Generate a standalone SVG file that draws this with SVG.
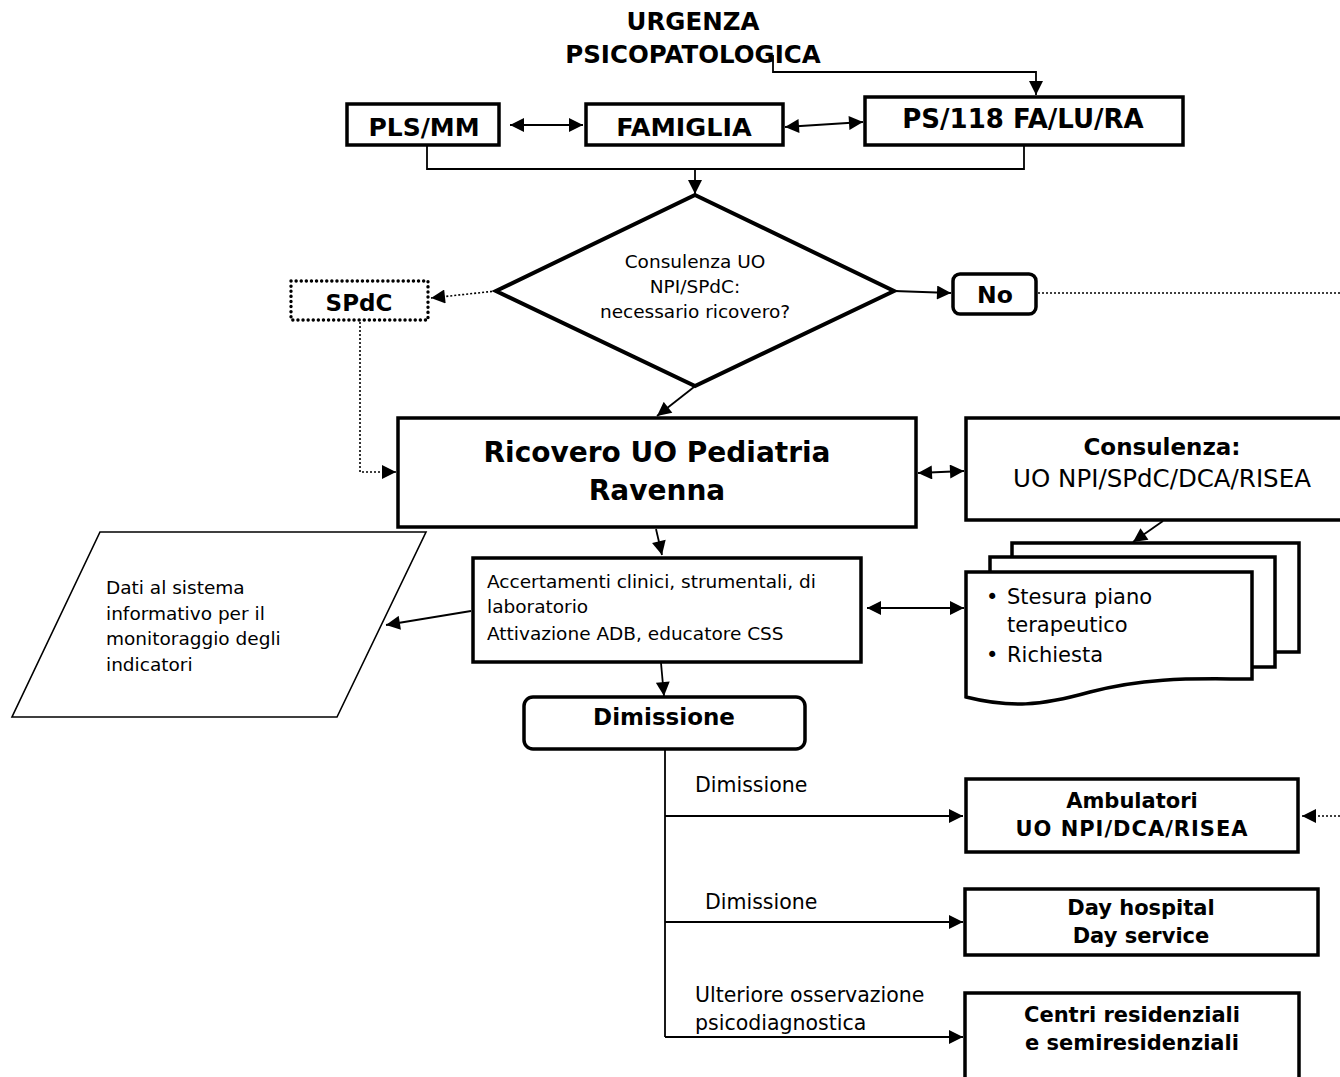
<svg xmlns="http://www.w3.org/2000/svg" width="1340" height="1077" viewBox="0 0 1340 1077">
  <defs>
    <marker id="ah" viewBox="0 0 10 10" refX="10" refY="5" markerWidth="15" markerHeight="14" markerUnits="userSpaceOnUse" orient="auto-start-reverse">
      <path d="M0,0 L10,5 L0,10 z" fill="#000"/>
    </marker>
    <style>
      .box { fill: #fff; stroke: #000; stroke-width: 3.5; }
      .thin { fill: #fff; stroke: #000; stroke-width: 1.6; }
      .dotbox { fill: #fff; stroke: #000; stroke-width: 3.4; stroke-dasharray: 0.1 5; stroke-linecap: round; }
      .ln { fill: none; stroke: #000; stroke-width: 1.8; }
      .dot { fill: none; stroke: #000; stroke-width: 1.6; stroke-dasharray: 2 2; }
      .b { font-family: "DejaVu Sans", Verdana, sans-serif; font-weight: bold; fill: #000; }
      .r { font-family: "DejaVu Sans", Verdana, sans-serif; fill: #000; }
      .c { text-anchor: middle; }
    </style>
  </defs>

  <!-- connectors -->
  <g id="connectors">
    <path class="ln" d="M773,55 V72 H1036 V95" marker-end="url(#ah)"/>
    <path class="ln" d="M510,125 H583" marker-start="url(#ah)" marker-end="url(#ah)"/>
    <path class="ln" d="M785,127 L863,122" marker-start="url(#ah)" marker-end="url(#ah)"/>
    <path class="ln" d="M427,145 V169 H1024 V146"/>
    <path class="ln" d="M695,169 V194" marker-end="url(#ah)"/>
    <path class="dot" d="M496,291 L431,298" marker-end="url(#ah)"/>
    <path class="ln" d="M894,291 L951,293" marker-end="url(#ah)"/>
    <path class="dot" d="M1038,293 H1340"/>
    <path class="dot" d="M360,322 V472 H396" marker-end="url(#ah)"/>
    <path class="ln" d="M694,387 L657,416" marker-end="url(#ah)"/>
    <path class="ln" d="M918,473 L964,471" marker-start="url(#ah)" marker-end="url(#ah)"/>
    <path class="ln" d="M1163,521 L1133,542" marker-end="url(#ah)"/>
    <path class="ln" d="M656,529 L662,555" marker-end="url(#ah)"/>
    <path class="ln" d="M471,611 L386,625" marker-end="url(#ah)"/>
    <path class="ln" d="M867,608 H964" marker-start="url(#ah)" marker-end="url(#ah)"/>
    <path class="ln" d="M661,663 L664,696" marker-end="url(#ah)"/>
    <path class="ln" d="M665,750 V1037"/>
    <path class="ln" d="M665,816 H963" marker-end="url(#ah)"/>
    <path class="ln" d="M665,922 H963" marker-end="url(#ah)"/>
    <path class="ln" d="M665,1037 H963" marker-end="url(#ah)"/>
    <path class="dot" d="M1340,816 H1302" marker-end="url(#ah)"/>
  </g>

  <!-- title -->
  <g id="title">
    <text class="b c" x="693" y="30" font-size="24.5">URGENZA</text>
    <text class="b c" x="693" y="63" font-size="24.5">PSICOPATOLOGICA</text>
  </g>

  <g id="pls">
    <rect class="box" x="347" y="104" width="152" height="41"/>
    <text class="b c" x="424" y="136" font-size="25">PLS/MM</text>
  </g>

  <g id="famiglia">
    <rect class="box" x="586" y="104" width="197" height="41"/>
    <text class="b c" x="684" y="136" font-size="25.5">FAMIGLIA</text>
  </g>

  <g id="ps118">
    <rect class="box" x="865" y="97" width="318" height="48"/>
    <text class="b c" x="1023" y="128" font-size="26">PS/118 FA/LU/RA</text>
  </g>

  <g id="decision">
    <polygon points="695,195 894,291 695,386 496,291" fill="#fff" stroke="#000" stroke-width="4" stroke-linejoin="miter"/>
    <text class="r c" x="695" y="268" font-size="18.5">Consulenza UO</text>
    <text class="r c" x="695" y="293" font-size="18.5">NPI/SPdC:</text>
    <text class="r c" x="695" y="318" font-size="18.5">necessario ricovero?</text>
  </g>

  <g id="spdc">
    <rect class="dotbox" x="291" y="281" width="137" height="39"/>
    <text class="b c" x="359" y="311" font-size="23">SPdC</text>
  </g>

  <g id="no">
    <rect class="box" x="953" y="274" width="83" height="40" rx="7" ry="7"/>
    <text class="b c" x="995" y="303" font-size="23.5">No</text>
  </g>

  <g id="ricovero">
    <rect class="box" x="398" y="418" width="518" height="109" stroke-width="4.5"/>
    <text class="b c" x="657" y="462" font-size="28">Ricovero UO Pediatria</text>
    <text class="b c" x="657" y="500" font-size="28">Ravenna</text>
  </g>

  <g id="consulenza">
    <rect class="box" x="966" y="418" width="392" height="102"/>
    <text class="b c" x="1162" y="455" font-size="23">Consulenza:</text>
    <text class="r c" x="1162" y="487" font-size="24.5">UO NPI/SPdC/DCA/RISEA</text>
  </g>

  <g id="piano">
    <rect class="box" x="1012" y="543" width="287" height="109"/>
    <rect class="box" x="990" y="557" width="285" height="110"/>
    <path class="box" d="M966,572 H1252 V679 C1200,679 1150,676 1090,692 C1040,706 1010,708 966,697 Z"/>
    <text class="r" x="986" y="604" font-size="21">•</text>
    <text class="r" x="1007" y="604" font-size="21">Stesura piano</text>
    <text class="r" x="1007" y="632" font-size="21">terapeutico</text>
    <text class="r" x="986" y="662" font-size="21">•</text>
    <text class="r" x="1007" y="662" font-size="21">Richiesta</text>
  </g>

  <g id="dati">
    <polygon class="thin" points="100,532 426,532 337,717 12,717"/>
    <text class="r" x="106" y="594" font-size="18.5">Dati al sistema</text>
    <text class="r" x="106" y="620" font-size="18.5">informativo per il</text>
    <text class="r" x="106" y="645" font-size="18.5">monitoraggio degli</text>
    <text class="r" x="106" y="671" font-size="18.5">indicatori</text>
  </g>

  <g id="accertamenti">
    <rect class="box" x="473" y="558" width="388" height="104"/>
    <text class="r" x="487" y="588" font-size="18.5">Accertamenti clinici, strumentali, di</text>
    <text class="r" x="487" y="613" font-size="18.5">laboratorio</text>
    <text class="r" x="487" y="640" font-size="18.5">Attivazione ADB, educatore CSS</text>
  </g>

  <g id="dimissione">
    <rect class="box" x="524" y="697" width="281" height="52" rx="9" ry="9"/>
    <text class="b c" x="664" y="725" font-size="23">Dimissione</text>
  </g>

  <g id="labels">
    <text class="r" x="695" y="792" font-size="20.5">Dimissione</text>
    <text class="r" x="705" y="909" font-size="20.5">Dimissione</text>
    <text class="r" x="695" y="1002" font-size="20.5">Ulteriore osservazione</text>
    <text class="r" x="695" y="1030" font-size="20.5">psicodiagnostica</text>
  </g>

  <g id="ambulatori">
    <rect class="box" x="966" y="779" width="332" height="73"/>
    <text class="b c" x="1132" y="808" font-size="21">Ambulatori</text>
    <text class="b c" x="1132" y="836" font-size="21" letter-spacing="1">UO NPI/DCA/RISEA</text>
  </g>

  <g id="dayhospital">
    <rect class="box" x="965" y="889" width="353" height="66"/>
    <text class="b c" x="1141" y="915" font-size="21">Day hospital</text>
    <text class="b c" x="1141" y="943" font-size="21">Day service</text>
  </g>

  <g id="centri">
    <rect class="box" x="965" y="993" width="334" height="100"/>
    <text class="b c" x="1132" y="1022" font-size="21">Centri residenziali</text>
    <text class="b c" x="1132" y="1050" font-size="21">e semiresidenziali</text>
  </g>
</svg>
